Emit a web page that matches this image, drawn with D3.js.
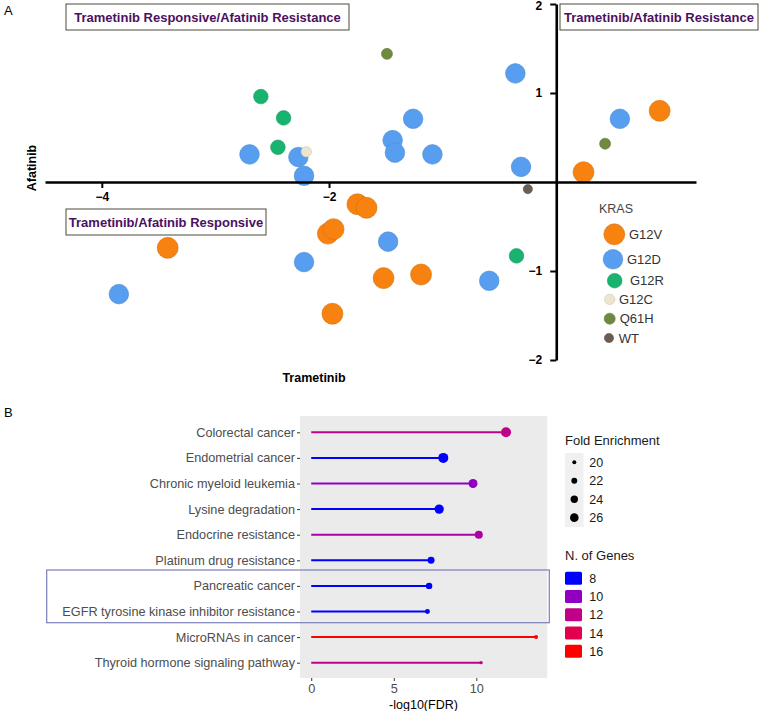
<!DOCTYPE html>
<html>
<head>
<meta charset="utf-8">
<script src="https://cdn.jsdelivr.net/npm/d3@7"></script>
<style>
  body { margin: 0; background: #fff; }
  svg { font-family: "Liberation Sans", Arial, sans-serif; }
</style>
</head>
<body>
<svg id="chart" width="759" height="711"></svg>
<script>
// Panel A data: cell lines, trametinib vs afatinib response
const mutation = ["G12V","G12V","G12V","G12V","G12V","G12V","G12V","G12V","G12V","G12V",
  "G12D","G12D","G12D","G12D","G12D","G12D","G12D","G12D","G12D","G12D","G12D","G12D","G12D","G12D",
  "G12R","G12R","G12R","G12R","G12C","Q61H","Q61H","WT"];
const trametinib = [-3.42,-1.97,-2.01,-1.96,-1.75,-1.67,-1.52,-1.19,0.24,0.91,
  -3.85,-2.70,-2.27,-2.22,-2.22,-1.48,-1.44,-1.42,-1.26,-1.09,-0.59,-0.36,-0.31,0.56,
  -2.60,-2.40,-2.45,-0.35,-2.20,-1.49,0.43,-0.25];
const afatinib = [-0.74,-1.48,-0.58,-0.53,-0.25,-0.29,-1.08,-1.04,0.11,0.80,
  -1.26,0.31,0.28,0.07,-0.90,-0.67,0.47,0.33,0.71,0.31,-1.11,1.22,0.17,0.71,
  0.96,0.72,0.39,-0.83,0.34,1.44,0.43,-0.08];
const krasTypes = ["G12V","G12D","G12R","G12C","Q61H","WT"];
const xTicksA = [-4,-2];
const yTicksA = [2,1,-1,-2];

// Panel B data: KEGG enrichment
const pathways = ["Colorectal cancer","Endometrial cancer","Chronic myeloid leukemia","Lysine degradation",
  "Endocrine resistance","Platinum drug resistance","Pancreatic cancer",
  "EGFR tyrosine kinase inhibitor resistance","MicroRNAs in cancer","Thyroid hormone signaling pathway"];
const log10FDR = [11.8,8.0,9.8,7.75,10.15,7.26,7.14,7.04,13.62,10.29];
const foldEnrichment = [28.7,28.7,26.7,27.4,25.0,23.4,22.6,20.9,20.0,19.5];
const geneCount = [12,8,10,8,11,8,8,8,16,12];
const feBreaks = [20,22,24,26];
const geneBreaks = [8,10,12,14,16];
const xTicksB = [0,5,10];

const svg = d3.select("#chart");

// ---------- Panel A ----------
const krasColor = d3.scaleOrdinal().domain(krasTypes)
  .range(["#f7820f","#589ef0","#18b36e","#ece6cf","#6f8a3f","#6b5d55"]);
const krasR = d3.scaleOrdinal().domain(krasTypes).range([10.5,9.8,7.3,5.2,5.5,4.6]);

const xA = d3.scaleLinear().domain([-4.5, 1.23]).range([45, 696]);
const yA = d3.scaleLinear().domain([-2, 2]).range([360, 4]);

svg.append("text").attr("x", 4).attr("y", 15).attr("font-size", 13).text("A");

const quad = [
  {x: 66, y: 4, w: 283, h: 26, t: "Trametinib Responsive/Afatinib Resistance"},
  {x: 560, y: 4, w: 198, h: 26, t: "Trametinib/Afatinib Resistance"},
  {x: 66, y: 209, w: 200, h: 26, t: "Trametinib/Afatinib Responsive"}
];
quad.forEach(q => {
  svg.append("rect").attr("x", q.x).attr("y", q.y).attr("width", q.w).attr("height", q.h)
    .attr("fill", "#fff").attr("stroke", "#4a4a3c").attr("stroke-width", 1);
  svg.append("text").attr("x", q.x + q.w / 2).attr("y", q.y + q.h / 2 + 4.5)
    .attr("text-anchor", "middle").attr("font-size", 13).attr("font-weight", "bold")
    .attr("fill", "#4b1160").text(q.t);
});

const pts = mutation.map((m, i) => ({m, x: trametinib[i], y: afatinib[i]}));
const order = ["G12V","G12D","G12R","G12C","Q61H","WT"];
svg.append("g").selectAll("circle")
  .data(pts.sort((a, b) => order.indexOf(a.m) - order.indexOf(b.m)))
  .enter().append("circle")
  .attr("cx", d => xA(d.x))
  .attr("cy", d => yA(d.y))
  .attr("r", d => krasR(d.m))
  .attr("fill", d => krasColor(d.m))
  .attr("stroke", d => d3.color(krasColor(d.m)).darker(0.4))
  .attr("stroke-width", 0.6);

const xAxisA = svg.append("g").attr("transform", `translate(0,${yA(0)})`)
  .call(d3.axisBottom(xA).tickValues(xTicksA).tickSize(6).tickSizeOuter(0).tickPadding(4)
    .tickFormat(d3.format("d")));
const yAxisA = svg.append("g").attr("transform", `translate(${xA(0)},0)`)
  .call(d3.axisLeft(yA).tickValues(yTicksA).tickSize(6).tickSizeOuter(0).tickPadding(8)
    .tickFormat(d3.format("d")));
[xAxisA, yAxisA].forEach(g => {
  g.select(".domain").attr("stroke", "#000").attr("stroke-width", 2.6);
  g.selectAll(".tick line").attr("stroke", "#000").attr("stroke-width", 2);
  g.selectAll(".tick text").attr("font-size", 12).attr("font-weight", "bold")
    .attr("fill", "#000").attr("font-family", "Liberation Sans, Arial, sans-serif");
});
// keep the top label inside the page
yAxisA.selectAll(".tick text").filter(d => d === 2).attr("dy", "0.75em").attr("y", -4);

svg.append("text").attr("transform", "translate(36,168) rotate(-90)")
  .attr("text-anchor", "middle").attr("font-size", 12.5).attr("font-weight", "bold").text("Afatinib");
svg.append("text").attr("x", 314).attr("y", 382)
  .attr("text-anchor", "middle").attr("font-size", 12.5).attr("font-weight", "bold").text("Trametinib");

// KRAS legend
svg.append("text").attr("x", 599).attr("y", 213).attr("font-size", 12.5).attr("fill", "#444").text("KRAS");
const legA = [
  {cx: 614.3, cy: 234.3, tx: 629}, {cx: 613, cy: 259.3, tx: 627}, {cx: 614.7, cy: 280.7, tx: 630},
  {cx: 609.7, cy: 299.3, tx: 619}, {cx: 609.7, cy: 318.7, tx: 619.7}, {cx: 609, cy: 338, tx: 618.7}
];
krasTypes.forEach((k, i) => {
  svg.append("circle").attr("cx", legA[i].cx).attr("cy", legA[i].cy).attr("r", krasR(k))
    .attr("fill", krasColor(k)).attr("stroke", d3.color(krasColor(k)).darker(0.4)).attr("stroke-width", 0.6);
  svg.append("text").attr("x", legA[i].tx).attr("y", legA[i].cy + 4.5)
    .attr("font-size", 13).attr("fill", "#333").text(k);
});

// ---------- Panel B ----------
svg.append("text").attr("x", 4).attr("y", 417).attr("font-size", 13).text("B");

const xB = d3.scaleLinear().domain([-0.68, 14.3]).range([300, 547.3]);
const yB = d3.scalePoint().domain(pathways).range([432.3, 662.7]);
const geneColor = d3.scaleLinear().domain([8, 16]).range(["#0000ff", "#ff0000"]).interpolate(d3.interpolateLab);
const feR = d3.scaleRadial().domain([18.35, 26]).range([0, 4.3]);

svg.append("rect").attr("x", 300).attr("y", 416).attr("width", 247.3).attr("height", 262)
  .attr("fill", "#ebebeb");

const rows = pathways.map((p, i) => ({p, v: log10FDR[i], fe: foldEnrichment[i], n: geneCount[i]}));
const lolli = svg.append("g");
lolli.selectAll("line").data(rows).enter().append("line")
  .attr("x1", xB(0)).attr("x2", d => xB(d.v))
  .attr("y1", d => yB(d.p)).attr("y2", d => yB(d.p))
  .attr("stroke", d => geneColor(d.n)).attr("stroke-width", 2);
lolli.selectAll("circle").data(rows).enter().append("circle")
  .attr("cx", d => xB(d.v)).attr("cy", d => yB(d.p))
  .attr("r", d => feR(d.fe)).attr("fill", d => geneColor(d.n));

const yAxisB = svg.append("g").attr("transform", "translate(300,0)")
  .call(d3.axisLeft(yB).tickSize(3).tickPadding(2));
const xAxisB = svg.append("g").attr("transform", "translate(0,678)")
  .call(d3.axisBottom(xB).tickValues(xTicksB).tickSize(3).tickPadding(3));
[xAxisB, yAxisB].forEach(g => {
  g.select(".domain").remove();
  g.selectAll(".tick line").attr("stroke", "#333");
  g.selectAll(".tick text").attr("font-size", 12.7).attr("fill", "#4d4d4d")
    .attr("font-family", "Liberation Sans, Arial, sans-serif");
});
svg.append("text").attr("x", 423.5).attr("y", 709).attr("text-anchor", "middle")
  .attr("font-size", 12.5).text("-log10(FDR)");

// highlight box
svg.append("rect").attr("x", 46.7).attr("y", 570).attr("width", 502.6).attr("height", 52.7)
  .attr("fill", "none").attr("stroke", "#7a7fb8").attr("stroke-width", 1.2);

// Fold Enrichment legend
svg.append("text").attr("x", 565).attr("y", 445).attr("font-size", 13).attr("fill", "#1a1a1a").text("Fold Enrichment");
svg.append("rect").attr("x", 565).attr("y", 453).attr("width", 18.5).attr("height", 74).attr("fill", "#f0f0f0");
feBreaks.forEach((b, i) => {
  const cy = 462.3 + i * 18.45;
  svg.append("circle").attr("cx", 574.3).attr("cy", cy).attr("r", feR(b)).attr("fill", "#000");
  svg.append("text").attr("x", 589.3).attr("y", cy + 4.5).attr("font-size", 12.5).attr("fill", "#1a1a1a").text(b);
});

// N. of Genes legend
svg.append("text").attr("x", 565).attr("y", 560).attr("font-size", 13).attr("fill", "#1a1a1a").text("N. of Genes");
geneBreaks.forEach((b, i) => {
  const cy = 578.3 + i * 18.25;
  svg.append("rect").attr("x", 565).attr("y", cy - 6.5).attr("width", 17).attr("height", 13)
    .attr("rx", 1.5).attr("fill", geneColor(b));
  svg.append("text").attr("x", 589.3).attr("y", cy + 4.5).attr("font-size", 12.5).attr("fill", "#1a1a1a").text(b);
});
</script>
</body>
</html>
